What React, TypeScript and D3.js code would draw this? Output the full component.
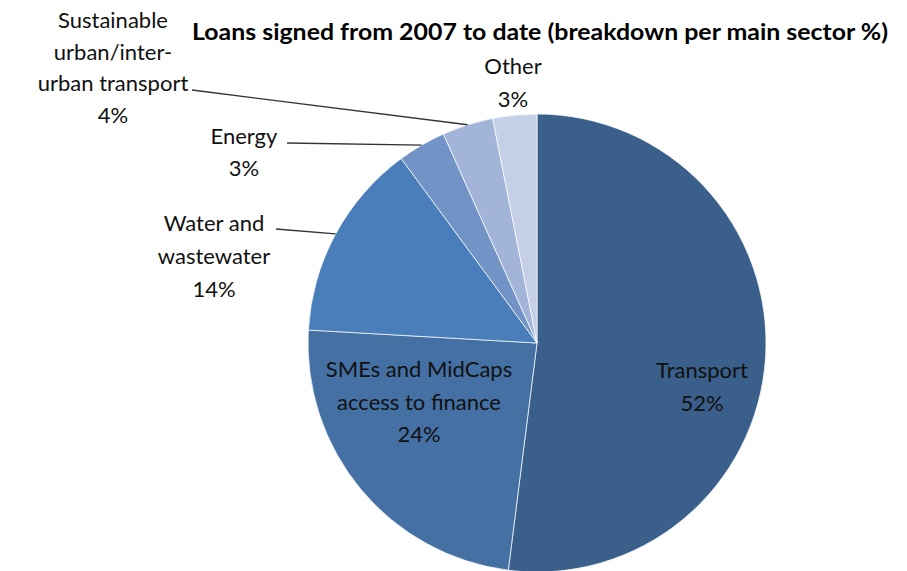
import React from "react";
import * as d3 from "d3";

const sectors = ["Transport", "SMEs and MidCaps access to finance", "Water and wastewater", "Energy", "Sustainable urban/inter-urban transport", "Other"];
const shares = [52.0, 23.9, 14.0, 3.4, 3.6, 3.1];
const shareLabels = ["52%", "24%", "14%", "3%", "4%", "3%"];
const colors = ["#3A5F8B", "#4470A4", "#4A7EBB", "#7293C6", "#A2B5D9", "#C5CFE5"];
const labelLines = [
  ["Transport", "52%"],
  ["SMEs and MidCaps", "access to finance", "24%"],
  ["Water and", "wastewater", "14%"],
  ["Energy", "3%"],
  ["Sustainable", "urban/inter-", "urban transport", "4%"],
  ["Other", "3%"],
];
const title = "Loans signed from 2007 to date (breakdown per main sector %)";

// layout (positions of label blocks: center x, first baseline y, line spacing)
const labelLayout = [
  { x: 702, y: 378, dy: 33, leader: null },
  { x: 419, y: 377, dy: 32.5, leader: null },
  { x: 214, y: 231, dy: 33, leader: [276, 229] },
  { x: 244, y: 144, dy: 32, leader: [287, 143] },
  { x: 113, y: 28, dy: 31.5, leader: [192, 90] },
  { x: 513, y: 74, dy: 33, leader: null },
];

export default function App() {
  const W = 907, H = 571;
  const cx = 537, cy = 343, r = 229;
  const pie = d3.pie<number>().sort(null).value((d) => d).startAngle(0).endAngle(2 * Math.PI);
  const arcs = pie(shares);
  const arc = d3.arc<d3.PieArcDatum<number>>().innerRadius(0).outerRadius(r);
  const font = "Lato, 'Open Sans', sans-serif";
  return (
    <svg width={W} height={H} style={{ position: "absolute", left: 0, top: 0, background: "#fff" }} fontFamily={font}>
      <text x={540} y={40} textAnchor="middle" fontSize={23} fontWeight="bold" fill="#000" textLength={696} lengthAdjust="spacingAndGlyphs">{title}</text>
      <g transform={`translate(${cx},${cy})`}>
        {arcs.map((a, i) => (
          <path key={sectors[i]} d={arc(a) || ""} fill={colors[i]} stroke="#fff" strokeWidth={1} strokeOpacity={0.7} />
        ))}
      </g>
      {arcs.map((a, i) => {
        const L = labelLayout[i];
        if (!L.leader) return null;
        const mid = (a.startAngle + a.endAngle) / 2;
        const ex = cx + r * Math.sin(mid);
        const ey = cy - r * Math.cos(mid);
        return <line key={"l" + i} x1={L.leader[0]} y1={L.leader[1]} x2={ex} y2={ey} stroke="#333" strokeWidth={1.3} />;
      })}
      {labelLines.map((lines, i) => {
        const L = labelLayout[i];
        return (
          <text key={"t" + i} textAnchor="middle" fontSize={22} fill="#111">
            {lines.map((s, j) => (
              <tspan key={j} x={L.x} y={L.y + j * L.dy}>{s}</tspan>
            ))}
          </text>
        );
      })}
    </svg>
  );
}
